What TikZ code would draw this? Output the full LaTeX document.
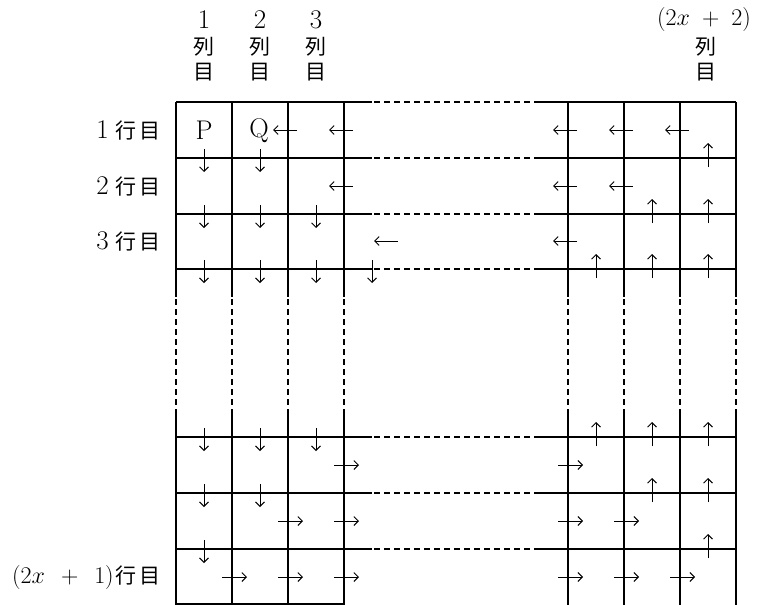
\documentclass[tikz,border=0pt]{standalone}
\usepackage{fix-cm}
\usepackage{fontspec}
\newfontfamily\jp{Noto Sans CJK JP}
\usetikzlibrary{arrows.meta}
\newcommand\jpsz{\jp\fontsize{21}{21}\selectfont}
\begin{document}
\begin{tikzpicture}[x=1pt,y=-1pt,
  gridline/.style={line width=1.3pt},
  griddash/.style={line width=1.3pt, dash pattern=on 6pt off 4pt, dash phase=-2pt},
  arr/.style={line width=0.8pt, -{Straight Barb[length=4.5pt,width=9pt,line width=0.9pt]}},
  lbl/.style={font=\fontsize{27}{27}\selectfont, inner sep=0pt},
  mlbl/.style={font=\fontsize{24}{24}\selectfont, inner sep=0pt},
  jplbl/.style={font=\jpsz, inner sep=0pt},
  ]
\useasboundingbox (0,0) rectangle (758,605);

% vertical grid lines
\foreach \x in {176,232,288,344,568,624,680,736}{
  \draw[gridline] (\x,102) -- (\x,297);
  \draw[griddash] (\x,297) -- (\x,410);
  \draw[gridline] (\x,410) -- (\x,605);
}
% horizontal grid lines
\foreach \y in {102,158,214,269,437,493,549}{
  \draw[gridline] (176,\y) -- (372,\y);
  \draw[griddash] (372,\y) -- (540,\y);
  \draw[gridline] (540,\y) -- (736,\y);
}
\draw[gridline] (176,604) -- (344,604);

% left arrows
\foreach \X/\Y in {288/130,344/130,568/130,624/130,680/130,
                   344/186,568/186,624/186,
                   389/241,568/241}{
  \draw[arr] (\X+9,\Y) -- (\X-15,\Y);
}
% right arrows
\foreach \X/\Y in {344/465,568/465,
                   288/521,344/521,568/521,624/521,
                   232/577,288/577,344/577,568/577,624/577,680/577}{
  \draw[arr] (\X-10,\Y) -- (\X+15,\Y);
}
% up arrows
\foreach \X/\Y in {708/158,652/214,708/214,596/269,652/269,708/269,
                   596/437,652/437,708/437,652/493,708/493,708/549}{
  \draw[arr] (\X,\Y+9) -- (\X,\Y-15);
}
% down arrows
\foreach \X/\Y in {204/158,260/158,204/214,260/214,316/214,
                   204/269,260/269,316/269,372/269,
                   204/437,260/437,316/437,204/493,260/493,204/549}{
  \draw[arr] (\X,\Y-9) -- (\X,\Y+14);
}

% column headers
\foreach \n/\x in {1/204,2/260,3/316}{
  \node[lbl] (cnum\n) at (\x,20) {\n};
  \node[jplbl] (cretsu\n) at (\x,47) {列};
  \node[jplbl] (cme\n) at (\x,72) {目};
}
\node[mlbl] (cnumN) at (704,20) {$(2x\;+\;2)$};
\node[jplbl] (cretsuN) at (706,47) {列};
\node[jplbl] (cmeN) at (706,72) {目};

% row labels
\node[lbl,anchor=east] (row1) at (161,130) {1\hspace{7pt}{\jpsz 行\hspace{3pt}目}};
\node[lbl,anchor=east] (row2) at (161,186) {2\hspace{7pt}{\jpsz 行\hspace{3pt}目}};
\node[lbl,anchor=east] (row3) at (161,241) {3\hspace{7pt}{\jpsz 行\hspace{3pt}目}};
\node[mlbl,anchor=east] (rowN) at (161,577) {$(2x\;\,+\;\,1)$\hspace{2pt}{\jpsz 行\hspace{3pt}目}};

% cell letters
\node[lbl] (P) at (204,130) {P};
\node[lbl] (Q) at (259,131) {Q};
\end{tikzpicture}
\end{document}
